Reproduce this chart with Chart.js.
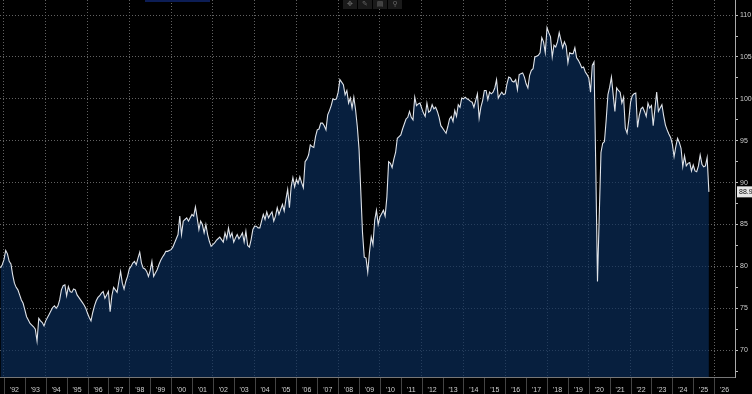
<!DOCTYPE html>
<html>
<head>
<meta charset="utf-8">
<script src="https://cdn.jsdelivr.net/npm/chart.js@4.4.0/dist/chart.umd.min.js"></script>
<style>
  html, body { margin: 0; padding: 0; background: #000; }
  #wrap { position: relative; width: 752px; height: 394px; overflow: hidden; }
  #toolbar { position: absolute; left: 343px; top: 0; height: 9px; display: flex; gap: 1px; }
  #toolbar span { width: 14px; height: 9px; background: #1a1a1a; color: #666; font: 7px 'DejaVu Sans'; line-height: 9px; text-align: center; }
  #topbar { position: absolute; left: 145px; top: 0; width: 65px; height: 2px; background: #0c1d55; }
</style>
</head>
<body>
<div id="wrap">
  <canvas id="idxChart" width="752" height="394"></canvas>
  <div id="topbar"></div>
  <div id="toolbar"><span>✥</span><span>✎</span><span>▤</span><span>⚲</span></div>
</div>
<script>
var idxCtx = document.getElementById('idxChart').getContext('2d');

// monthly readings, series starts Nov 1991
var firstMonth = 1991 + 10 / 12;
var d1991 = [79.8, 80.2];
var d1992 = [80.8, 81.9, 81.5, 80.6, 80.3, 79.0, 78.0, 77.5, 77.2, 76.6, 76.0, 75.6];
var d1993 = [74.8, 74.0, 73.6, 73.2, 73.0, 72.8, 72.5, 71.1, 73.8, 73.5, 73.3, 72.9];
var d1994 = [73.5, 73.9, 74.3, 74.7, 75.1, 75.3, 75.0, 75.3, 76.0, 77.2, 77.7, 77.8];
var d1995 = [76.5, 77.6, 77.0, 76.9, 77.3, 77.2, 76.6, 76.3, 76.0, 75.7, 75.4, 75.0];
var d1996 = [74.4, 73.9, 73.5, 74.5, 75.3, 75.9, 76.3, 76.5, 76.8, 77.0, 76.2, 76.6];
var d1997 = [77.0, 74.6, 76.5, 77.5, 77.2, 76.9, 78.2, 79.4, 78.0, 77.3, 78.2, 78.8];
var d1998 = [79.7, 80.0, 80.4, 80.6, 80.2, 81.0, 81.7, 80.4, 79.8, 79.7, 79.4, 78.8];
var d1999 = [79.5, 80.6, 78.8, 79.2, 79.6, 80.2, 80.7, 81.1, 81.4, 81.8, 81.8, 81.9];
var d2000 = [82.0, 82.3, 82.8, 83.3, 83.8, 86.0, 83.8, 85.4, 85.6, 85.8, 85.4, 85.8];
var d2001 = [86.2, 86.0, 87.1, 85.8, 84.4, 85.4, 85.0, 84.0, 85.0, 83.8, 83.0, 82.4];
var d2002 = [82.6, 82.8, 83.1, 83.3, 83.5, 83.2, 82.9, 84.0, 83.3, 84.6, 83.5, 84.0];
var d2003 = [82.9, 83.4, 83.8, 83.3, 83.6, 84.0, 82.9, 84.2, 82.5, 82.3, 83.2, 84.4];
var d2004 = [84.8, 84.8, 84.6, 84.6, 85.4, 86.2, 85.6, 86.5, 85.8, 86.2, 86.5, 85.4];
var d2005 = [86.0, 87.0, 86.2, 86.8, 87.4, 86.6, 88.0, 89.2, 87.0, 89.5, 90.6, 89.5];
var d2006 = [90.4, 89.9, 90.7, 90.0, 89.4, 92.5, 92.8, 93.3, 94.5, 94.3, 94.2, 95.5];
var d2007 = [96.3, 96.4, 97.1, 97.1, 96.8, 96.3, 98.1, 98.6, 99.2, 100.0, 99.9, 100.0];
var d2008 = [100.8, 102.3, 102.0, 101.7, 100.5, 101.0, 99.5, 100.1, 98.9, 100.2, 98.7, 96.7];
var d2009 = [94.0, 89.0, 84.0, 81.1, 81.0, 79.3, 81.7, 83.5, 82.6, 85.5, 86.7, 85.0];
var d2010 = [85.9, 86.3, 86.7, 86.0, 88.3, 92.5, 92.3, 91.8, 92.8, 93.6, 95.3, 95.5];
var d2011 = [95.7, 96.4, 97.0, 97.6, 97.8, 98.5, 97.8, 97.5, 100.2, 99.2, 99.4, 99.5];
var d2012 = [98.9, 98.3, 97.9, 99.5, 98.4, 98.6, 99.3, 98.8, 99.0, 98.5, 97.8, 96.8];
var d2013 = [96.5, 96.2, 95.9, 96.7, 97.6, 97.9, 97.3, 98.6, 97.9, 99.3, 99.0, 100.1];
var d2014 = [100.0, 100.2, 100.0, 99.9, 99.7, 99.6, 99.0, 99.8, 100.6, 97.7, 99.0, 99.8];
var d2015 = [101.0, 101.0, 99.9, 100.8, 100.6, 100.8, 101.3, 102.3, 100.1, 100.5, 100.8, 100.5];
var d2016 = [100.6, 101.8, 102.6, 102.5, 102.1, 102.0, 102.3, 101.1, 102.9, 103.0, 103.1, 102.6];
var d2017 = [101.8, 101.3, 102.8, 103.4, 103.6, 105.0, 105.1, 105.2, 105.5, 107.3, 106.8, 105.5];
var d2018 = [108.5, 107.9, 107.4, 105.0, 106.4, 106.2, 106.8, 107.9, 107.0, 106.1, 106.8, 106.3];
var d2019 = [104.3, 105.5, 105.4, 105.4, 106.1, 104.9, 104.6, 104.2, 103.7, 103.8, 103.2, 102.9];
var d2020 = [102.5, 100.8, 104.0, 104.4, 92.0, 78.2, 86.0, 93.6, 94.7, 94.9, 97.5, 100.5];
var d2021 = [101.4, 102.6, 100.5, 98.5, 101.3, 101.0, 100.8, 99.5, 100.2, 96.5, 95.9, 97.5];
var d2022 = [99.6, 100.4, 100.6, 100.7, 96.6, 98.0, 98.8, 99.0, 98.5, 97.9, 99.5, 98.9];
var d2023 = [99.2, 96.8, 98.8, 100.8, 98.5, 98.9, 99.3, 98.0, 96.9, 96.3, 95.8, 95.4];
var d2024 = [94.6, 93.1, 94.3, 95.3, 94.8, 94.1, 91.9, 93.2, 92.0, 92.3, 92.4, 91.4];
var d2025 = [92.1, 91.4, 91.3, 92.0, 93.3, 92.2, 91.9, 92.0, 93.0, 88.9];

var yearTicks = [1992, 1993, 1994, 1995, 1996, 1997, 1998, 1999, 2000, 2001, 2002, 2003,
    2004, 2005, 2006, 2007, 2008, 2009, 2010, 2011, 2012, 2013, 2014, 2015, 2016,
    2017, 2018, 2019, 2020, 2021, 2022, 2023, 2024, 2025, 2026];
var yTicks = [67.5, 70, 72.5, 75, 77.5, 80, 82.5, 85, 87.5, 90, 92.5, 95, 97.5,
    100, 102.5, 105, 107.5, 110];

var values = [].concat(d1991, d1992, d1993, d1994, d1995, d1996, d1997, d1998, d1999,
    d2000, d2001, d2002, d2003, d2004, d2005, d2006, d2007, d2008, d2009, d2010,
    d2011, d2012, d2013, d2014, d2015, d2016, d2017, d2018, d2019, d2020, d2021,
    d2022, d2023, d2024, d2025);

var points = [];
for (let i = 0; i < values.length; i++) {
    points.push({ x: firstMonth + i / 12, y: values[i] });
}

var gridColor = '#626262';
var labelFont = { size: 7, family: "'Liberation Sans', Arial, sans-serif" };

// little separators between the year labels under the plot
var bandLines = {
    id: 'bandLines',
    afterDraw(chart) {
        const c = chart.ctx, xs = chart.scales.x, a = chart.chartArea;
        c.save();
        c.strokeStyle = '#444';
        c.lineWidth = 1;
        yearTicks.forEach(function (v) {
            const px = Math.round(xs.getPixelForValue(v)) + 0.5;
            c.beginPath();
            c.moveTo(px, a.bottom + 1);
            c.lineTo(px, chart.height);
            c.stroke();
        });
        c.restore();
    }
};

// box with the last value on the right axis
var lastLabel = {
    id: 'lastLabel',
    afterDraw(chart) {
        const c = chart.ctx, ys = chart.scales.y;
        const last = values[values.length - 1];
        const py = ys.getPixelForValue(last);
        c.save();
        c.fillStyle = '#e6e6e6';
        c.fillRect(737, py - 5.5, 20, 11);
        c.fillStyle = '#111';
        c.font = "7px 'Liberation Sans', Arial, sans-serif";
        c.textBaseline = 'middle';
        c.fillText(last.toFixed(1), 739, py + 0.5);
        c.restore();
    }
};

var idxChart = new Chart(idxCtx, {
    type: 'line',
    data: {
        datasets: [{
            data: points,
            borderColor: '#dfe3e9',
            borderWidth: 1.1,
            pointRadius: 0,
            tension: 0,
            fill: 'start',
            backgroundColor: 'rgba(10, 45, 92, 0.68)'
        }]
    },
    options: {
        responsive: false,
        animation: false,
        layout: { padding: 0 },
        plugins: {
            legend: { display: false },
            tooltip: { enabled: false }
        },
        scales: {
            x: {
                type: 'linear',
                min: 1991.81,
                max: 2027,
                afterBuildTicks: function (s) { s.ticks = yearTicks.map(v => ({ value: v })); },
                afterFit: function (s) { s.height = 17; s.paddingLeft = 0; s.paddingRight = 0; },
                grid: {
                    color: c => (c.tick && c.tick.value % 2 === 0) ? gridColor : 'transparent',
                    drawTicks: false
                },
                border: { display: true, color: '#777', dash: [1, 2] },
                ticks: {
                    autoSkip: false,
                    maxRotation: 0,
                    padding: 9.3,
                    labelOffset: 10.45,
                    color: '#cfcfcf',
                    font: labelFont,
                    callback: v => "'" + String(v).slice(2)
                }
            },
            y: {
                position: 'right',
                min: 66.8,
                max: 111.8,
                afterBuildTicks: function (s) { s.ticks = yTicks.map(v => ({ value: v })); },
                afterFit: function (s) { s.width = 17; s.paddingTop = 0; s.paddingBottom = 0; },
                grid: {
                    color: c => (c.tick && c.tick.value % 5 === 0) ? gridColor : 'transparent',
                    drawTicks: true,
                    tickLength: 3,
                    tickColor: '#bbb'
                },
                border: { display: true, color: '#aaa', dash: [1, 2] },
                ticks: {
                    padding: 2,
                    color: '#cfcfcf',
                    font: labelFont,
                    callback: v => (v % 5 === 0) ? String(v) : ''
                }
            }
        }
    },
    plugins: [bandLines, lastLabel]
});
</script>
</body>
</html>
